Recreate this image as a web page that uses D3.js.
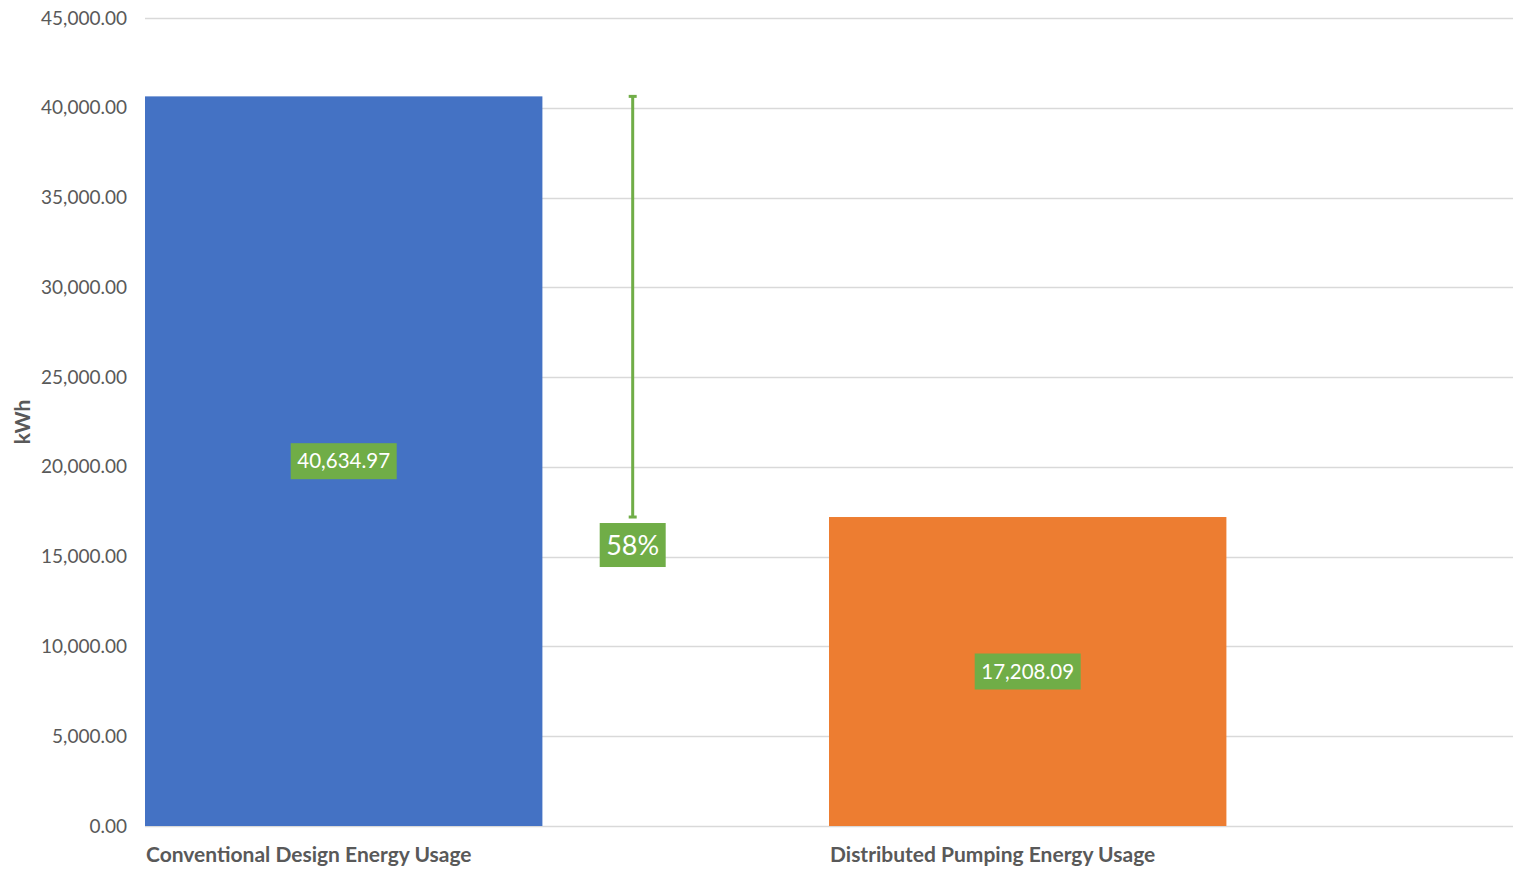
<!DOCTYPE html>
<html>
<head>
<meta charset="utf-8">
<script src="https://cdn.jsdelivr.net/npm/d3@7"></script>
<style>
  html, body { margin: 0; padding: 0; background: #fff; }
  svg { display: block; }
  text { font-family: Lato, "Open Sans", sans-serif; }
</style>
</head>
<body>
<svg id="chart" width="1513" height="872"></svg>
<script>
// Energy usage comparison
const categories = ["Conventional Design Energy Usage", "Distributed Pumping Energy Usage"];
const energyValues = [40634.97, 17208.09];
const barColors = ["#4472C4", "#ED7D31"];
const yTicks = [0, 5000, 10000, 15000, 20000, 25000, 30000, 35000, 40000, 45000];
const savingLabel = "58%";
const yTitle = "kWh";

(function () {
const svg = d3.select("#chart");
const margin = { top: 18, right: 0, bottom: 46, left: 145 };
const width = 1513, height = 872;

const x = d3.scaleBand()
  .domain(categories)
  .range([margin.left, width - margin.right])
  .paddingInner(0).paddingOuter(0);

const y = d3.scaleLinear()
  .domain([0, 45000])
  .range([height - margin.bottom, margin.top]);

const barW = x.bandwidth() * 0.581;

// Gridlines
svg.append("g")
  .selectAll("line")
  .data(yTicks)
  .join("line")
  .attr("x1", margin.left)
  .attr("x2", width - margin.right)
  .attr("y1", d => Math.round(y(d)) + 0.5)
  .attr("y2", d => Math.round(y(d)) + 0.5)
  .attr("stroke", "#d9d9d9")
  .attr("stroke-width", 1.5);

// Y axis labels
const fmt = d3.format(",.2f");
const yAxis = d3.axisLeft(y).tickValues(yTicks).tickFormat(fmt).tickSize(0).tickPadding(0);
const gy = svg.append("g")
  .attr("transform", `translate(127,0)`)
  .call(yAxis);
gy.select(".domain").remove();
gy.selectAll("text")
  .attr("fill", "#595959")
  .attr("font-size", 19)
  .attr("font-family", "Lato, sans-serif");

// Axis title
svg.append("text")
  .attr("transform", `translate(30, ${y(22500)}) rotate(-90)`)
  .attr("text-anchor", "middle")
  .attr("font-size", 21)
  .attr("font-weight", "bold")
  .attr("fill", "#595959")
  .text(yTitle);

// Bars
svg.append("g")
  .selectAll("rect")
  .data(energyValues)
  .join("rect")
  .attr("x", (d, i) => x(categories[i]))
  .attr("y", d => y(d))
  .attr("width", barW)
  .attr("height", d => y(0) - y(d))
  .attr("fill", (d, i) => barColors[i]);

// Value labels inside bars
const valueLabels = svg.append("g")
  .selectAll("g")
  .data(energyValues)
  .join("g")
  .attr("transform", (d, i) => `translate(${x(categories[i]) + barW / 2}, ${y(d / 2)})`);
valueLabels.append("rect")
  .attr("x", -53).attr("y", -18)
  .attr("width", 106).attr("height", 36)
  .attr("fill", "#70AD47");
valueLabels.append("text")
  .attr("text-anchor", "middle")
  .attr("dy", "0.35em")
  .attr("font-size", 20.5)
  .attr("fill", "#fff")
  .text(d => fmt(d));

// Difference marker between the two bars
const mx = x(categories[0]) + x.bandwidth() * 0.713;
const yHigh = y(energyValues[0]), yLow = y(energyValues[1]);
const g = svg.append("g").attr("stroke", "#70AD47").attr("stroke-width", 3);
g.append("line").attr("x1", mx).attr("x2", mx).attr("y1", yHigh).attr("y2", yLow);
g.append("line").attr("x1", mx - 4).attr("x2", mx + 4).attr("y1", yHigh).attr("y2", yHigh);
g.append("line").attr("x1", mx - 4).attr("x2", mx + 4).attr("y1", yLow).attr("y2", yLow);

const pct = svg.append("g").attr("transform", `translate(${mx}, ${yLow + 28})`);
pct.append("rect")
  .attr("x", -33).attr("y", -22)
  .attr("width", 66).attr("height", 44)
  .attr("fill", "#70AD47");
pct.append("text")
  .attr("text-anchor", "middle")
  .attr("dy", "0.36em")
  .attr("font-size", 27)
  .attr("fill", "#fff")
  .text(savingLabel);

// Category labels
svg.append("g")
  .selectAll("text")
  .data(categories)
  .join("text")
  .attr("x", d => x(d) + 1)
  .attr("y", height - margin.bottom + 36)
  .attr("font-size", 21)
  .attr("font-weight", "bold")
  .attr("fill", "#595959")
  .text(d => d);
})();
</script>
</body>
</html>
